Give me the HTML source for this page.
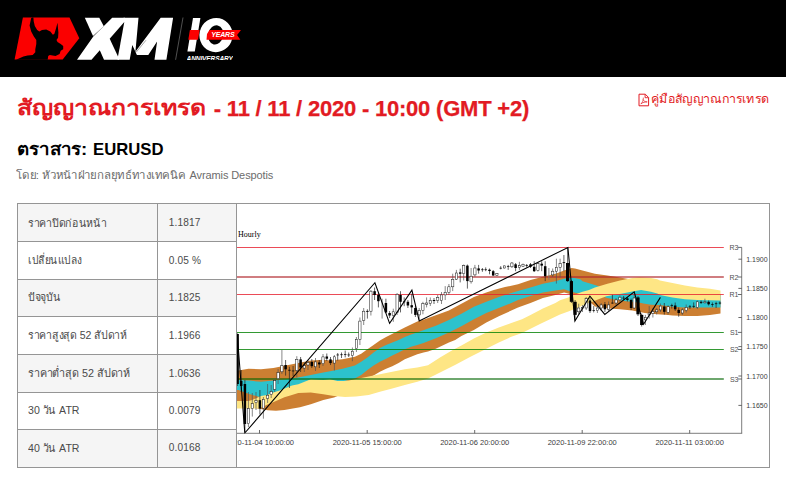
<!DOCTYPE html>
<html><head><meta charset="utf-8"><title>XM</title>
<style>
*{box-sizing:border-box;margin:0;padding:0}
html,body{width:786px;height:483px;overflow:hidden;background:#fff}
body{font-family:"Liberation Sans",sans-serif;position:relative;color:#333}
#hdr{position:absolute;left:0;top:0;width:786px;height:77px;background:#000;overflow:hidden}
#hdr svg{position:absolute;left:0;top:0}
.yrs{position:absolute;left:211.3px;top:30.4px;font-size:7px;line-height:9px;font-weight:bold;font-style:italic;color:#fff;letter-spacing:-0.2px;white-space:nowrap}
.ann{position:absolute;left:186.6px;top:55.2px;height:4.6px;overflow:hidden;font-size:6.6px;line-height:7px;font-weight:bold;font-style:italic;color:#fff;letter-spacing:-0.15px;white-space:nowrap}
.th{display:inline-block;transform-origin:0 50%}
#title{position:absolute;left:17.5px;top:94.3px;font-size:22px;font-weight:bold;color:#e21b23;white-space:nowrap;line-height:30px;letter-spacing:-0.21px}
#title .th{position:relative;top:-1.3px;left:-0.9px;font-size:21.4px;letter-spacing:0;transform:scaleX(1.163);margin-right:27.4px}
#title .la{-webkit-text-stroke:0.25px #e21b23}
#guide{position:absolute;left:651px;top:89px;font-size:12px;color:#e21b23;white-space:nowrap;line-height:20px}
#guide .th{transform:scaleX(1.038)}
#pdf{position:absolute;left:637.5px;top:93px}
#inst{position:absolute;left:17.2px;top:138px;font-size:16.7px;font-weight:bold;color:#000;white-space:nowrap;line-height:24px}
#inst .th{transform:scaleX(1.123);margin-right:8.7px}
#by{position:absolute;left:16.3px;top:165.8px;font-size:11px;color:#6c6c6c;white-space:nowrap;line-height:18px}
#by .th{transform:scaleX(1.044);margin-right:8px}
#by .la{letter-spacing:-0.1px}
#frame{position:absolute;left:17px;top:203px;width:753px;height:265px;border:1px solid #959595}
.r{position:absolute;left:17px;width:220px;border-top:1px solid #959595;font-size:11px;color:#4a4a4a;line-height:14px;white-space:nowrap}
.r.odd{background:#f5f5f5}
.r .a{position:absolute;left:0;top:0;bottom:0;width:141px;border-left:1px solid #959595;border-right:1px solid #959595}
.r .b{position:absolute;left:141px;top:0;bottom:0;width:79px;border-right:1px solid #959595;background:inherit}
.r span{position:absolute;left:10.4px;display:inline-block;transform-origin:0 50%}
.r .b span{left:10.7px;font-size:10.1px;letter-spacing:0.16px}
.yl,.sl,.xl{position:absolute;font-size:7px;line-height:10px;color:#3c3c3c;white-space:nowrap}
.yl{left:746.2px;margin-top:0.9px}
.sl{left:722.5px;width:16px;text-align:right;color:#505050;font-size:7px;margin-top:0.9px}
.xl{top:437.6px;width:120px;text-align:center;font-size:7.5px}
#hourly{position:absolute;left:238px;top:229px;font-family:"Liberation Serif",serif;font-size:8px;line-height:12px;color:#000}
#clip{position:absolute;left:237px;top:204px;width:532px;height:263px;overflow:hidden}
#clip > div{position:absolute;left:-237px;top:-204px;width:786px;height:483px}
</style></head><body>
<div id="hdr">
<svg width="786" height="77" viewBox="0 0 786 77">
<polygon fill="#fb0000" points="22.9,17.6 69.5,17.6 79.3,38.3 62.7,59.6 14.6,59.6"/>
<path fill="#000" d="M32.2,17.6 L31.2,18.1 L29.6,25.4 L31.2,31.6 L33.7,36.3 L36.3,39.9 L36.3,44 L35.3,49.2 L35.3,52.3 L32.7,54.9 L27.5,55.4 L23.4,56.4 L16.1,59.7 L47.7,59.7 L48.2,55.9 L49.8,54.9 L55.5,55.9 L59.6,53.9 L60.7,50.7 L63.2,49.2 L63.2,46.1 L60.7,44 L57.5,42 L56.5,39.9 L58.1,37.8 L58.4,32.6 L57.5,22.8 L56,28.5 L54.4,33.7 L52.9,34.7 L50.3,31.6 L46.2,29.5 L42,30 L39.3,31.4 L37.2,30 L34.8,26 L33.7,21.2 L33.4,17.6 Z"/>
<g fill="#fff">
<polygon points="84.8,17.7 99.3,17.7 103.8,26.2 93,35.9"/>
<polygon points="77,59.7 91.5,59.7 99.8,50.2 104,59.7 119,59.7 119,50 124.6,22.3 125,17.7 112.2,17.7 93.3,36.5"/>
<polygon points="123.5,17.7 138.5,17.7 135.4,51.8 132.3,45.1 129.7,59.7 117.5,59.7"/>
<polygon points="160.7,17.7 173.1,17.7 166.4,59.7 154.5,59.7 157.1,41.4 148.3,54.9 136.9,54.9 135.4,51.8"/>
</g>
<polygon fill="#000" points="124.3,22 109.7,38.8 118,56.4"/>
<path d="M136.2,52.2 L146,40.2" stroke="#000" stroke-width="0.35"/>
<path d="M183,17.5 L175.6,59.8" stroke="#5a5a5a" stroke-width="0.9"/>
<polygon fill="#fff" points="193,18 200.4,18 194.8,51.6 187.4,51.6"/>
<ellipse cx="216" cy="35.1" rx="16.6" ry="17.1" fill="#fff" transform="rotate(12 216 35.1)"/>
<ellipse cx="215.7" cy="34.9" rx="7.5" ry="9.7" fill="#000" transform="rotate(12 215.7 34.9)"/>
<polygon fill="#fb0000" points="189.9,29.9 199.6,29.9 198,39.8 188.3,39.8"/>
<polygon fill="#fb0000" points="209.5,29.9 241,29.9 237.1,34.9 240.3,39.8 206.5,39.8 207,34"/>
</svg>
<div class="yrs">YEARS</div>
<div class="ann">ANNIVERSARY</div>
</div>
<div id="title"><span class="th">สัญญาณการเทรด</span> <span class="la">- 11 / 11 / 2020 - 10:00 (GMT +2)</span></div>
<svg id="pdf" width="12" height="14" viewBox="0 0 12 14" fill="none" stroke="#e21b23" stroke-width="1">
<path d="M1,1.2 H7.3 L10.6,4.5 V12.8 H1 Z"/><path d="M7.1,1.4 V4.7 H10.4" stroke-width="0.9"/>
<path d="M2.6,11.2 C4.6,9.6 5.6,7 5.3,4.6 M4.9,6.4 C5.8,8.2 7.4,9 9.2,8.9 M3,10.6 C5,9.4 7,8.9 9.2,8.9" stroke-width="0.7"/>
</svg>
<div id="guide"><span class="th">คู่มือสัญญาณการเทรด</span></div>
<div id="inst"><span class="th">ตราสาร:</span> EURUSD</div>
<div id="by"><span class="th">โดย: หัวหน้าฝ่ายกลยุทธ์ทางเทคนิค</span> <span class="la">Avramis Despotis</span></div>
<div class="r odd" style="top:203px;height:39px"><div class="a"><span style="top:11.65px;transform:scaleX(0.958)">ราคาปิดก่อนหน้า</span></div><div class="b"><span style="top:12.16px">1.1817</span></div></div>
<div class="r" style="top:241px;height:39px"><div class="a"><span style="top:11.35px;transform:scaleX(0.926)">เปลี่ยนแปลง</span></div><div class="b"><span style="top:12.06px">0.05 %</span></div></div>
<div class="r odd" style="top:279px;height:38px"><div class="a"><span style="top:10.45px;transform:scaleX(0.953)">ปัจจุบัน</span></div><div class="b"><span style="top:11.16px">1.1825</span></div></div>
<div class="r" style="top:316px;height:39px"><div class="a"><span style="top:11.25px;transform:scaleX(0.957)">ราคาสูงสุด 52 สัปดาห์</span></div><div class="b"><span style="top:11.86px">1.1966</span></div></div>
<div class="r odd" style="top:354px;height:39px"><div class="a"><span style="top:11.25px;transform:scaleX(0.979)">ราคาต่ำสุด 52 สัปดาห์</span></div><div class="b"><span style="top:11.86px">1.0636</span></div></div>
<div class="r" style="top:392px;height:38px"><div class="a"><span style="top:10.25px;transform:scaleX(0.962)">30 วัน ATR</span></div><div class="b"><span style="top:10.86px">0.0079</span></div></div>
<div class="r odd" style="top:429px;height:39px"><div class="a"><span style="top:10.65px;transform:scaleX(0.962)">40 วัน ATR</span></div><div class="b"><span style="top:11.26px">0.0168</span></div></div>
<div id="frame"></div>
<div id="clip"><div>
<svg id="ch" width="786" height="483" viewBox="0 0 786 483" style="position:absolute;left:0;top:0" fill="none">
<polygon fill="#cc7f32" points="237.0,371.0 238.5,370.6 248.5,368.7 261.0,369.3 273.4,368.1 285.9,365.6 298.3,363.1 310.8,360.6 323.3,359.8 330.0,360.6 342.5,359.3 354.9,356.8 361.2,353.7 367.4,349.3 373.6,345.0 379.9,340.6 386.1,336.9 392.0,334.0 404.8,327.4 417.3,321.5 424.0,319.5 436.5,314.9 448.9,310.6 461.4,303.7 473.9,296.9 486.3,292.5 493.8,290.0 505.0,287.0 518.0,284.3 530.5,279.9 542.9,276.8 555.4,273.7 564.1,270.6 571.6,268.1 575.0,268.5 582.5,270.6 594.9,273.7 607.4,275.6 619.9,277.5 628.6,278.9 645.0,283.0 660.0,286.0 690.0,291.0 720.5,294.0 720.5,313.6 709.9,314.9 697.4,316.1 684.9,316.1 672.5,315.5 668.0,314.9 657.3,314.3 644.8,313.0 632.3,310.5 619.9,309.3 609.7,308.6 601.4,307.6 594.9,306.5 591.0,303.0 584.0,300.0 576.0,297.0 570.0,294.0 564.1,292.4 555.4,294.9 542.9,298.0 530.5,303.0 518.0,307.4 511.3,310.6 498.8,316.2 486.3,322.4 473.9,329.9 461.4,336.1 455.2,339.9 448.9,342.4 435.2,349.0 428.0,351.5 423.5,352.5 417.3,354.3 411.0,356.8 404.8,359.3 398.6,363.1 392.3,366.2 386.1,368.7 379.9,371.8 373.6,375.5 367.0,378.5 360.0,381.0 350.0,388.0 340.0,395.0 334.0,397.4 323.3,399.9 310.8,404.3 300.0,407.3 292.8,408.6 284.4,409.9 276.0,410.7 267.6,410.3 259.2,408.8 255.0,408.0 248.5,404.0 237.0,402.0"/>
<polygon fill="#2cc2cc" points="237.0,380.0 238.5,380.0 248.5,380.6 261.0,381.8 273.4,380.6 285.9,379.3 298.3,377.4 310.8,375.0 323.3,372.5 330.0,371.2 342.5,368.7 354.9,365.5 361.2,361.8 367.4,357.4 373.6,352.5 379.9,348.1 386.1,345.0 392.3,342.5 398.6,340.0 404.8,336.9 409.8,335.0 417.0,332.5 424.0,329.9 436.5,325.5 448.9,319.9 461.4,313.7 473.9,306.8 486.3,301.8 498.8,296.9 511.3,293.0 518.0,291.0 530.5,287.4 542.9,283.7 555.4,281.2 564.1,278.7 571.6,277.4 580.3,279.3 582.5,281.2 594.9,285.0 598.7,286.2 610.0,287.5 630.0,284.5 641.0,283.0 660.0,286.5 690.0,291.5 720.5,295.0 720.5,307.4 709.9,307.6 697.4,307.6 684.9,307.4 672.5,306.8 660.0,304.9 657.3,304.9 651.0,304.7 644.8,303.7 638.6,302.4 632.3,301.8 626.1,301.2 619.9,300.2 613.6,299.3 607.4,298.0 603.7,296.8 595.0,295.0 582.5,292.8 576.2,293.1 570.0,291.2 564.1,289.3 555.4,290.5 542.9,292.4 530.5,296.1 518.0,299.9 511.3,303.1 498.8,308.1 486.3,313.1 473.9,319.3 461.4,326.2 448.9,332.4 436.5,338.0 428.0,341.2 423.5,343.1 417.3,345.0 411.0,346.8 404.8,349.3 398.6,352.5 392.3,355.6 386.1,358.7 379.9,361.8 373.6,365.5 367.4,369.9 361.2,374.9 354.9,378.6 348.7,379.9 342.5,381.6 337.5,382.0 330.0,381.0 323.3,382.0 310.8,383.0 298.3,387.0 285.9,391.0 273.4,395.0 267.0,397.0 261.0,397.5 248.5,393.7 238.5,390.0 237.0,390.0"/>
<polygon fill="#fee685" points="237.0,401.0 238.5,401.0 248.5,401.0 252.0,400.0 261.0,396.1 267.0,394.9 273.4,392.4 279.6,390.5 285.9,388.0 292.0,385.5 298.3,384.3 304.6,381.8 310.8,379.3 323.3,380.0 330.0,379.3 337.5,381.1 343.7,381.1 348.7,380.5 354.9,379.3 361.2,378.0 367.4,376.8 373.6,375.5 379.9,374.3 392.3,371.8 404.8,369.3 417.3,367.4 428.0,365.2 440.0,357.5 452.7,350.0 461.4,345.5 473.9,338.6 486.3,332.4 498.8,327.4 511.3,323.0 522.0,319.3 530.5,315.0 542.9,308.6 555.4,303.0 560.0,300.3 568.3,297.4 576.6,294.1 582.5,291.8 589.0,290.0 594.9,287.4 607.4,283.7 619.9,280.6 628.6,278.7 632.3,278.1 639.8,277.2 651.0,278.1 657.3,279.3 660.0,280.6 672.5,283.1 684.9,285.6 697.4,287.4 709.9,288.7 720.5,290.6 720.5,300.5 709.9,300.2 697.4,299.9 684.9,299.3 672.5,297.4 660.0,294.9 657.3,293.4 651.0,291.8 641.1,289.9 632.3,291.4 626.1,292.7 619.9,293.9 613.6,294.9 606.4,296.2 599.8,298.7 593.1,301.6 584.9,304.5 576.6,308.2 568.3,311.5 560.0,314.4 540.0,324.0 522.0,333.0 511.3,336.8 498.8,342.4 483.9,350.0 470.0,357.0 455.0,365.0 440.0,372.5 428.0,378.6 417.3,381.8 404.8,384.9 392.3,388.6 379.9,391.7 368.7,395.0 356.0,396.5 345.0,397.0 334.0,396.0 323.3,394.3 310.8,392.4 298.3,393.0 291.1,395.2 284.4,397.3 276.0,401.0 267.6,404.6 259.2,408.4 256.0,408.6 248.5,408.6 237.0,408.6"/>
<rect x="236.8" y="247" width="487" height="1" fill="rgba(230,30,45,0.8)"/>
<rect x="236.8" y="294" width="487" height="1" fill="rgba(230,30,45,0.8)"/>
<rect x="236.8" y="276" width="487" height="2" fill="rgba(177,38,43,0.6)"/>
<rect x="236.8" y="332" width="487" height="1" fill="rgba(0,128,0,0.8)"/>
<rect x="236.8" y="349" width="487" height="1" fill="rgba(0,128,0,0.8)"/>
<rect x="236.8" y="378" width="487" height="2" fill="rgba(0,100,0,0.57)"/>
<path d="M237.6,334.0V386.0" stroke="#222" stroke-width="0.7"/>
<rect x="236.35" y="334.0" width="2.5" height="50.0" fill="#000"/>
<path d="M241.2,370.0V392.0" stroke="#222" stroke-width="0.7"/>
<rect x="239.95" y="381.0" width="2.5" height="5.0" fill="#000"/>
<path d="M244.9,380.0V433.0" stroke="#222" stroke-width="0.7"/>
<rect x="243.65" y="384.0" width="2.5" height="40.0" fill="#000"/>
<path d="M248.4,392.0V427.0" stroke="#555" stroke-width="0.7"/>
<rect x="247.25" y="408.6" width="2.3" height="15.1" fill="#fff" stroke="#151515" stroke-width="0.5"/>
<path d="M252.3,393.0V416.6" stroke="#555" stroke-width="0.7"/>
<rect x="251.15" y="403.6" width="2.3" height="5.0" fill="#fff" stroke="#151515" stroke-width="0.5"/>
<path d="M256.0,392.0V410.0" stroke="#555" stroke-width="0.7"/>
<rect x="254.85" y="400.6" width="2.3" height="2.1" fill="#fff" stroke="#151515" stroke-width="0.5"/>
<path d="M259.9,390.0V414.5" stroke="#222" stroke-width="0.7"/>
<rect x="258.65" y="400.2" width="2.5" height="8.4" fill="#000"/>
<path d="M263.4,397.0V418.7" stroke="#555" stroke-width="0.7"/>
<rect x="262.25" y="399.4" width="2.3" height="8.8" fill="#fff" stroke="#151515" stroke-width="0.5"/>
<path d="M267.6,384.0V403.0" stroke="#555" stroke-width="0.7"/>
<rect x="266.45" y="395.2" width="2.3" height="3.3" fill="#fff" stroke="#151515" stroke-width="0.5"/>
<path d="M271.2,385.0V398.0" stroke="#555" stroke-width="0.7"/>
<rect x="270.05" y="391.5" width="2.3" height="3.0" fill="#fff" stroke="#151515" stroke-width="0.5"/>
<path d="M274.7,378.0V392.0" stroke="#555" stroke-width="0.7"/>
<rect x="273.55" y="380.6" width="2.3" height="8.7" fill="#fff" stroke="#151515" stroke-width="0.5"/>
<path d="M278.1,369.0V384.0" stroke="#555" stroke-width="0.7"/>
<rect x="276.95" y="372.5" width="2.3" height="6.2" fill="#fff" stroke="#151515" stroke-width="0.5"/>
<path d="M281.9,350.0V374.0" stroke="#555" stroke-width="0.7"/>
<rect x="280.75" y="365.6" width="2.3" height="6.2" fill="#fff" stroke="#151515" stroke-width="0.5"/>
<path d="M285.6,360.0V375.6" stroke="#222" stroke-width="0.7"/>
<rect x="284.35" y="365.0" width="2.5" height="4.3" fill="#000"/>
<path d="M289.4,366.8V388.0" stroke="#222" stroke-width="0.7"/>
<rect x="288.15" y="369.8" width="2.5" height="0.8" fill="#000"/>
<path d="M293.1,366.0V376.0" stroke="#222" stroke-width="0.7"/>
<rect x="291.85" y="370.6" width="2.5" height="0.7" fill="#000"/>
<path d="M296.8,356.2V377.4" stroke="#555" stroke-width="0.7"/>
<rect x="295.65" y="359.4" width="2.3" height="11.2" fill="#fff" stroke="#151515" stroke-width="0.5"/>
<path d="M300.6,357.0V372.0" stroke="#222" stroke-width="0.7"/>
<rect x="299.35" y="359.4" width="2.5" height="8.1" fill="#000"/>
<path d="M304.3,362.0V372.0" stroke="#555" stroke-width="0.7"/>
<rect x="303.15" y="365.6" width="2.3" height="2.5" fill="#fff" stroke="#151515" stroke-width="0.5"/>
<path d="M308.0,360.0V370.0" stroke="#555" stroke-width="0.7"/>
<rect x="306.85" y="362.5" width="2.3" height="2.5" fill="#fff" stroke="#151515" stroke-width="0.5"/>
<path d="M311.8,359.0V368.0" stroke="#222" stroke-width="0.7"/>
<rect x="310.55" y="361.9" width="2.5" height="4.3" fill="#000"/>
<path d="M315.5,358.0V371.0" stroke="#555" stroke-width="0.7"/>
<rect x="314.35" y="361.9" width="2.3" height="4.9" fill="#fff" stroke="#151515" stroke-width="0.5"/>
<path d="M319.3,360.0V368.0" stroke="#222" stroke-width="0.7"/>
<rect x="318.05" y="362.5" width="2.5" height="1.9" fill="#000"/>
<path d="M323.0,354.0V366.0" stroke="#555" stroke-width="0.7"/>
<rect x="321.85" y="356.9" width="2.3" height="6.8" fill="#fff" stroke="#151515" stroke-width="0.5"/>
<path d="M326.8,353.5V361.0" stroke="#222" stroke-width="0.7"/>
<rect x="325.55" y="356.5" width="2.5" height="2.2" fill="#000"/>
<path d="M330.5,357.0V365.0" stroke="#222" stroke-width="0.7"/>
<rect x="329.25" y="359.4" width="2.5" height="3.7" fill="#000"/>
<path d="M334.4,355.0V370.5" stroke="#555" stroke-width="0.7"/>
<rect x="333.25" y="356.8" width="2.3" height="6.3" fill="#fff" stroke="#151515" stroke-width="0.5"/>
<path d="M337.7,353.0V360.5" stroke="#222" stroke-width="0.7"/>
<rect x="336.45" y="354.6" width="2.5" height="0.7" fill="#000"/>
<path d="M341.5,352.5V358.0" stroke="#222" stroke-width="0.7"/>
<rect x="340.25" y="354.4" width="2.5" height="0.7" fill="#000"/>
<path d="M345.2,350.6V357.4" stroke="#222" stroke-width="0.7"/>
<rect x="343.95" y="354.0" width="2.5" height="0.7" fill="#000"/>
<path d="M348.7,352.5V357.0" stroke="#222" stroke-width="0.7"/>
<rect x="347.45" y="354.6" width="2.5" height="0.7" fill="#000"/>
<path d="M352.4,347.5V361.2" stroke="#555" stroke-width="0.7"/>
<rect x="351.25" y="351.2" width="2.3" height="4.4" fill="#fff" stroke="#151515" stroke-width="0.5"/>
<path d="M356.4,337.0V352.0" stroke="#555" stroke-width="0.7"/>
<rect x="355.25" y="339.4" width="2.3" height="9.3" fill="#fff" stroke="#151515" stroke-width="0.5"/>
<path d="M359.9,317.5V345.0" stroke="#555" stroke-width="0.7"/>
<rect x="358.75" y="321.1" width="2.3" height="18.3" fill="#fff" stroke="#151515" stroke-width="0.5"/>
<path d="M363.7,308.0V325.0" stroke="#555" stroke-width="0.7"/>
<rect x="362.55" y="311.2" width="2.3" height="9.3" fill="#fff" stroke="#151515" stroke-width="0.5"/>
<path d="M367.4,309.3V318.6" stroke="#222" stroke-width="0.7"/>
<rect x="366.15" y="310.9" width="2.5" height="0.9" fill="#000"/>
<path d="M370.9,290.0V315.5" stroke="#555" stroke-width="0.7"/>
<rect x="369.75" y="291.2" width="2.3" height="20.0" fill="#fff" stroke="#151515" stroke-width="0.5"/>
<path d="M374.6,287.5V300.0" stroke="#222" stroke-width="0.7"/>
<rect x="373.35" y="291.2" width="2.5" height="3.8" fill="#000"/>
<path d="M378.4,292.5V307.4" stroke="#222" stroke-width="0.7"/>
<rect x="377.15" y="295.0" width="2.5" height="6.2" fill="#000"/>
<path d="M382.1,298.7V318.6" stroke="#777" stroke-width="0.9"/>
<path d="M385.9,298.7V313.0" stroke="#222" stroke-width="0.7"/>
<rect x="384.65" y="303.0" width="2.5" height="9.4" fill="#000"/>
<path d="M389.6,311.0V318.0" stroke="#222" stroke-width="0.7"/>
<rect x="388.35" y="313.0" width="2.5" height="2.5" fill="#000"/>
<path d="M393.3,308.7V321.8" stroke="#555" stroke-width="0.7"/>
<rect x="392.15" y="311.8" width="2.3" height="3.7" fill="#fff" stroke="#151515" stroke-width="0.5"/>
<path d="M397.1,293.0V315.0" stroke="#555" stroke-width="0.7"/>
<rect x="395.95" y="294.3" width="2.3" height="18.1" fill="#fff" stroke="#151515" stroke-width="0.5"/>
<path d="M400.5,291.2V312.4" stroke="#222" stroke-width="0.7"/>
<rect x="399.25" y="295.0" width="2.5" height="6.8" fill="#000"/>
<path d="M404.2,297.4V306.2" stroke="#222" stroke-width="0.7"/>
<rect x="402.95" y="301.5" width="2.5" height="0.7" fill="#000"/>
<path d="M407.9,300.0V308.0" stroke="#222" stroke-width="0.7"/>
<rect x="406.65" y="301.8" width="2.5" height="3.7" fill="#000"/>
<path d="M411.7,293.7V313.7" stroke="#222" stroke-width="0.7"/>
<rect x="410.45" y="305.2" width="2.5" height="2.2" fill="#000"/>
<path d="M415.4,306.0V317.0" stroke="#222" stroke-width="0.7"/>
<rect x="414.15" y="308.0" width="2.5" height="6.9" fill="#000"/>
<path d="M419.2,308.0V319.9" stroke="#555" stroke-width="0.7"/>
<rect x="418.05" y="310.5" width="2.3" height="4.4" fill="#fff" stroke="#151515" stroke-width="0.5"/>
<path d="M422.9,301.8V314.3" stroke="#555" stroke-width="0.7"/>
<rect x="421.75" y="303.7" width="2.3" height="6.8" fill="#fff" stroke="#151515" stroke-width="0.5"/>
<path d="M426.6,297.4V307.4" stroke="#555" stroke-width="0.7"/>
<rect x="425.45" y="303.0" width="2.3" height="1.3" fill="#fff" stroke="#151515" stroke-width="0.5"/>
<path d="M430.3,297.5V306.0" stroke="#555" stroke-width="0.7"/>
<rect x="429.15" y="300.5" width="2.3" height="3.0" fill="#fff" stroke="#151515" stroke-width="0.5"/>
<path d="M434.0,298.0V304.0" stroke="#222" stroke-width="0.7"/>
<rect x="432.75" y="300.0" width="2.5" height="1.0" fill="#000"/>
<path d="M437.7,295.0V303.0" stroke="#555" stroke-width="0.7"/>
<rect x="436.55" y="297.5" width="2.3" height="3.0" fill="#fff" stroke="#151515" stroke-width="0.5"/>
<path d="M441.5,292.0V304.0" stroke="#555" stroke-width="0.7"/>
<rect x="440.35" y="294.9" width="2.3" height="5.6" fill="#fff" stroke="#151515" stroke-width="0.5"/>
<path d="M445.2,286.1V300.0" stroke="#555" stroke-width="0.7"/>
<rect x="444.05" y="292.4" width="2.3" height="2.5" fill="#fff" stroke="#151515" stroke-width="0.5"/>
<path d="M448.9,284.0V295.0" stroke="#555" stroke-width="0.7"/>
<rect x="447.75" y="286.8" width="2.3" height="5.6" fill="#fff" stroke="#151515" stroke-width="0.5"/>
<path d="M452.7,273.7V291.1" stroke="#555" stroke-width="0.7"/>
<rect x="451.55" y="279.3" width="2.3" height="7.5" fill="#fff" stroke="#151515" stroke-width="0.5"/>
<path d="M456.4,269.9V279.9" stroke="#555" stroke-width="0.7"/>
<rect x="455.25" y="273.0" width="2.3" height="6.3" fill="#fff" stroke="#151515" stroke-width="0.5"/>
<path d="M460.2,268.7V282.4" stroke="#222" stroke-width="0.7"/>
<rect x="458.95" y="272.4" width="2.5" height="1.3" fill="#000"/>
<path d="M463.7,264.5V280.5" stroke="#555" stroke-width="0.7"/>
<rect x="462.55" y="265.6" width="2.3" height="8.1" fill="#fff" stroke="#151515" stroke-width="0.5"/>
<path d="M467.4,264.5V288.6" stroke="#222" stroke-width="0.7"/>
<rect x="466.15" y="265.6" width="2.5" height="15.5" fill="#000"/>
<path d="M471.1,268.0V283.6" stroke="#555" stroke-width="0.7"/>
<rect x="469.95" y="276.2" width="2.3" height="5.6" fill="#fff" stroke="#151515" stroke-width="0.5"/>
<path d="M474.9,264.9V276.8" stroke="#555" stroke-width="0.7"/>
<rect x="473.75" y="268.0" width="2.3" height="6.9" fill="#fff" stroke="#151515" stroke-width="0.5"/>
<path d="M478.6,264.9V273.7" stroke="#222" stroke-width="0.7"/>
<rect x="477.35" y="268.4" width="2.5" height="2.1" fill="#000"/>
<path d="M482.4,268.0V271.8" stroke="#222" stroke-width="0.7"/>
<rect x="481.15" y="269.4" width="2.5" height="0.7" fill="#000"/>
<path d="M485.7,267.4V271.2" stroke="#222" stroke-width="0.7"/>
<rect x="484.45" y="269.4" width="2.5" height="0.7" fill="#000"/>
<path d="M489.5,268.5V274.3" stroke="#222" stroke-width="0.7"/>
<rect x="488.25" y="269.7" width="2.5" height="1.3" fill="#000"/>
<path d="M493.2,270.0V276.0" stroke="#222" stroke-width="0.7"/>
<rect x="491.95" y="271.2" width="2.5" height="4.3" fill="#000"/>
<path d="M496.9,273.0V276.0" stroke="#555" stroke-width="0.7"/>
<rect x="495.75" y="273.7" width="2.3" height="1.8" fill="#fff" stroke="#151515" stroke-width="0.5"/>
<path d="M500.7,266.2V269.3" stroke="#222" stroke-width="0.7"/>
<rect x="499.45" y="267.8" width="2.5" height="0.7" fill="#000"/>
<path d="M504.4,265.5V268.5" stroke="#555" stroke-width="0.7"/>
<rect x="503.25" y="265.9" width="2.3" height="2.1" fill="#fff" stroke="#151515" stroke-width="0.5"/>
<path d="M508.2,264.9V269.9" stroke="#222" stroke-width="0.7"/>
<rect x="506.95" y="266.2" width="2.5" height="0.7" fill="#000"/>
<path d="M511.9,262.0V268.0" stroke="#555" stroke-width="0.7"/>
<rect x="510.75" y="263.0" width="2.3" height="3.8" fill="#fff" stroke="#151515" stroke-width="0.5"/>
<path d="M515.6,263.0V271.2" stroke="#222" stroke-width="0.7"/>
<rect x="514.35" y="264.3" width="2.5" height="3.7" fill="#000"/>
<path d="M519.4,261.8V269.9" stroke="#555" stroke-width="0.7"/>
<rect x="518.25" y="265.6" width="2.3" height="1.8" fill="#fff" stroke="#151515" stroke-width="0.5"/>
<path d="M523.0,263.5V267.0" stroke="#555" stroke-width="0.7"/>
<rect x="521.85" y="264.3" width="2.3" height="1.9" fill="#fff" stroke="#151515" stroke-width="0.5"/>
<path d="M526.7,264.0V267.5" stroke="#222" stroke-width="0.7"/>
<rect x="525.45" y="265.3" width="2.5" height="0.7" fill="#000"/>
<path d="M530.5,263.0V268.0" stroke="#222" stroke-width="0.7"/>
<rect x="529.25" y="264.3" width="2.5" height="2.5" fill="#000"/>
<path d="M534.2,261.2V272.0" stroke="#222" stroke-width="0.7"/>
<rect x="532.95" y="266.8" width="2.5" height="4.4" fill="#000"/>
<path d="M537.9,262.0V271.5" stroke="#555" stroke-width="0.7"/>
<rect x="536.75" y="263.7" width="2.3" height="6.8" fill="#fff" stroke="#151515" stroke-width="0.5"/>
<path d="M541.7,261.2V271.2" stroke="#222" stroke-width="0.7"/>
<rect x="540.45" y="263.7" width="2.5" height="1.9" fill="#000"/>
<path d="M545.2,261.2V281.1" stroke="#222" stroke-width="0.7"/>
<rect x="543.95" y="266.2" width="2.5" height="10.0" fill="#000"/>
<path d="M548.9,268.0V279.9" stroke="#777" stroke-width="0.9"/>
<path d="M552.7,268.5V277.0" stroke="#555" stroke-width="0.7"/>
<rect x="551.55" y="271.2" width="2.3" height="3.7" fill="#fff" stroke="#151515" stroke-width="0.5"/>
<path d="M556.4,258.7V283.6" stroke="#555" stroke-width="0.7"/>
<rect x="555.25" y="267.4" width="2.3" height="3.8" fill="#fff" stroke="#151515" stroke-width="0.5"/>
<path d="M560.1,258.7V277.4" stroke="#555" stroke-width="0.7"/>
<rect x="558.95" y="263.7" width="2.3" height="3.7" fill="#fff" stroke="#151515" stroke-width="0.5"/>
<path d="M563.9,255.0V271.2" stroke="#222" stroke-width="0.7"/>
<rect x="562.65" y="262.2" width="2.5" height="0.9" fill="#000"/>
<path d="M567.6,247.5V282.0" stroke="#222" stroke-width="0.7"/>
<rect x="566.00" y="263.0" width="3.2" height="18.1" fill="#000"/>
<path d="M571.4,280.0V303.0" stroke="#222" stroke-width="0.7"/>
<rect x="569.80" y="281.1" width="3.2" height="20.7" fill="#000"/>
<path d="M575.1,300.0V320.5" stroke="#222" stroke-width="0.7"/>
<rect x="573.50" y="301.8" width="3.2" height="13.1" fill="#000"/>
<path d="M578.7,303.7V314.9" stroke="#555" stroke-width="0.7"/>
<rect x="577.55" y="308.0" width="2.3" height="3.8" fill="#fff" stroke="#151515" stroke-width="0.5"/>
<path d="M582.5,305.0V312.0" stroke="#555" stroke-width="0.7"/>
<rect x="581.35" y="307.4" width="2.3" height="1.2" fill="#fff" stroke="#151515" stroke-width="0.5"/>
<path d="M586.2,297.0V310.0" stroke="#555" stroke-width="0.7"/>
<rect x="585.05" y="298.7" width="2.3" height="9.3" fill="#fff" stroke="#151515" stroke-width="0.5"/>
<path d="M590.0,298.0V313.0" stroke="#222" stroke-width="0.7"/>
<rect x="588.75" y="300.5" width="2.5" height="10.6" fill="#000"/>
<path d="M593.7,306.1V312.4" stroke="#222" stroke-width="0.7"/>
<rect x="592.45" y="310.2" width="2.5" height="0.7" fill="#000"/>
<path d="M597.4,305.0V313.0" stroke="#555" stroke-width="0.7"/>
<rect x="596.25" y="308.0" width="2.3" height="2.5" fill="#fff" stroke="#151515" stroke-width="0.5"/>
<path d="M601.2,303.0V311.0" stroke="#555" stroke-width="0.7"/>
<rect x="600.05" y="304.9" width="2.3" height="3.1" fill="#fff" stroke="#151515" stroke-width="0.5"/>
<path d="M604.9,302.0V312.0" stroke="#222" stroke-width="0.7"/>
<rect x="603.65" y="304.3" width="2.5" height="5.0" fill="#000"/>
<path d="M608.6,301.5V311.0" stroke="#555" stroke-width="0.7"/>
<rect x="607.45" y="304.9" width="2.3" height="4.4" fill="#fff" stroke="#151515" stroke-width="0.5"/>
<path d="M612.4,294.9V303.7" stroke="#222" stroke-width="0.7"/>
<rect x="611.15" y="302.7" width="2.5" height="0.7" fill="#000"/>
<path d="M616.1,298.0V305.0" stroke="#555" stroke-width="0.7"/>
<rect x="614.95" y="299.9" width="2.3" height="3.1" fill="#fff" stroke="#151515" stroke-width="0.5"/>
<path d="M619.9,295.5V301.5" stroke="#555" stroke-width="0.7"/>
<rect x="618.75" y="297.2" width="2.3" height="2.7" fill="#fff" stroke="#151515" stroke-width="0.5"/>
<path d="M623.6,296.0V300.0" stroke="#222" stroke-width="0.7"/>
<rect x="622.35" y="297.7" width="2.5" height="0.7" fill="#000"/>
<path d="M627.4,297.0V301.5" stroke="#222" stroke-width="0.7"/>
<rect x="626.15" y="298.4" width="2.5" height="1.5" fill="#000"/>
<path d="M631.1,298.5V310.0" stroke="#222" stroke-width="0.7"/>
<rect x="629.85" y="299.9" width="2.5" height="8.1" fill="#000"/>
<path d="M634.2,294.0V309.0" stroke="#555" stroke-width="0.7"/>
<rect x="633.05" y="298.0" width="2.3" height="10.0" fill="#fff" stroke="#151515" stroke-width="0.5"/>
<path d="M638.0,296.0V316.0" stroke="#222" stroke-width="0.7"/>
<rect x="636.40" y="297.4" width="3.2" height="16.9" fill="#000"/>
<path d="M641.7,313.5V326.5" stroke="#222" stroke-width="0.7"/>
<rect x="640.10" y="314.9" width="3.2" height="10.1" fill="#000"/>
<path d="M645.4,314.9V325.0" stroke="#555" stroke-width="0.7"/>
<rect x="644.25" y="317.4" width="2.3" height="2.5" fill="#fff" stroke="#151515" stroke-width="0.5"/>
<path d="M649.2,306.1V318.6" stroke="#555" stroke-width="0.7"/>
<rect x="648.05" y="313.0" width="2.3" height="1.9" fill="#fff" stroke="#151515" stroke-width="0.5"/>
<path d="M652.9,308.0V317.5" stroke="#555" stroke-width="0.7"/>
<rect x="651.75" y="311.5" width="2.3" height="2.0" fill="#fff" stroke="#151515" stroke-width="0.5"/>
<path d="M656.7,308.0V314.5" stroke="#555" stroke-width="0.7"/>
<rect x="655.55" y="309.9" width="2.3" height="1.9" fill="#fff" stroke="#151515" stroke-width="0.5"/>
<path d="M660.5,303.5V312.0" stroke="#555" stroke-width="0.7"/>
<rect x="659.35" y="306.1" width="2.3" height="3.8" fill="#fff" stroke="#151515" stroke-width="0.5"/>
<path d="M664.3,303.0V314.5" stroke="#222" stroke-width="0.7"/>
<rect x="663.05" y="306.5" width="2.5" height="5.3" fill="#000"/>
<path d="M668.1,305.0V314.5" stroke="#555" stroke-width="0.7"/>
<rect x="666.95" y="306.8" width="2.3" height="5.6" fill="#fff" stroke="#151515" stroke-width="0.5"/>
<path d="M671.8,303.7V308.6" stroke="#222" stroke-width="0.7"/>
<rect x="670.55" y="305.2" width="2.5" height="0.7" fill="#000"/>
<path d="M675.2,302.5V311.0" stroke="#222" stroke-width="0.7"/>
<rect x="673.95" y="305.5" width="2.5" height="3.8" fill="#000"/>
<path d="M678.7,307.5V316.7" stroke="#222" stroke-width="0.7"/>
<rect x="677.45" y="309.9" width="2.5" height="3.1" fill="#000"/>
<path d="M682.4,308.0V315.0" stroke="#555" stroke-width="0.7"/>
<rect x="681.25" y="309.9" width="2.3" height="3.1" fill="#fff" stroke="#151515" stroke-width="0.5"/>
<path d="M686.2,304.5V312.5" stroke="#555" stroke-width="0.7"/>
<rect x="685.05" y="307.4" width="2.3" height="3.1" fill="#fff" stroke="#151515" stroke-width="0.5"/>
<path d="M689.9,305.0V309.0" stroke="#222" stroke-width="0.7"/>
<rect x="688.65" y="306.5" width="2.5" height="0.7" fill="#000"/>
<path d="M693.7,302.4V308.0" stroke="#222" stroke-width="0.7"/>
<rect x="692.45" y="305.9" width="2.5" height="0.7" fill="#000"/>
<path d="M697.4,300.5V309.0" stroke="#555" stroke-width="0.7"/>
<rect x="696.25" y="301.8" width="2.3" height="5.6" fill="#fff" stroke="#151515" stroke-width="0.5"/>
<path d="M701.1,300.5V304.0" stroke="#222" stroke-width="0.7"/>
<rect x="699.85" y="301.8" width="2.5" height="1.0" fill="#000"/>
<path d="M704.9,298.7V303.7" stroke="#555" stroke-width="0.7"/>
<rect x="703.75" y="301.8" width="2.3" height="1.0" fill="#fff" stroke="#151515" stroke-width="0.5"/>
<path d="M708.6,300.5V305.5" stroke="#222" stroke-width="0.7"/>
<rect x="707.35" y="301.8" width="2.5" height="2.5" fill="#000"/>
<path d="M712.4,302.4V306.8" stroke="#222" stroke-width="0.7"/>
<rect x="711.15" y="304.0" width="2.5" height="0.7" fill="#000"/>
<path d="M716.1,301.8V308.0" stroke="#222" stroke-width="0.7"/>
<rect x="714.85" y="303.4" width="2.5" height="0.7" fill="#000"/>
<path d="M719.9,301.5V304.5" stroke="#222" stroke-width="0.7"/>
<rect x="718.65" y="302.7" width="2.5" height="0.7" fill="#000"/>
<polyline points="237.2,333.5 244.8,433.0 374.9,282.7 389.6,323.4 411.9,290.2 419.2,320.9 567.9,247.5 574.9,321.0 589.9,296.2 604.8,314.4 634.2,291.8 643.6,324.2 660.4,297.4" stroke="#000" stroke-width="1.08" stroke-linejoin="miter"/>
<path d="M741.7,247.4V433.3M236.8,433.3H742.2" stroke="#666" stroke-width="0.85"/>
<path d="M259.5,430V433.3M367.2,430V433.3M474.7,430V433.3M582.2,430V433.3M689.7,430V433.3M737.9,247.4H741.7M737.9,277H741.7M737.9,294.5H741.7M737.9,332.4H741.7M737.9,349.5H741.7M737.9,379H741.7M738.4,259.2H741.7M738.4,288.4H741.7M738.4,317.5H741.7M738.4,346.6H741.7M738.4,376.0H741.7M738.4,405.4H741.7" stroke="#444" stroke-width="0.8"/>
</svg>
<div class="yl" style="top:254.2px">1.1900</div><div class="yl" style="top:283.4px">1.1850</div><div class="yl" style="top:312.5px">1.1800</div><div class="yl" style="top:341.6px">1.1750</div><div class="yl" style="top:371.0px">1.1700</div><div class="yl" style="top:400.4px">1.1650</div><div class="sl" style="top:242.4px">R3</div><div class="sl" style="top:272.0px">R2</div><div class="sl" style="top:289.5px">R1</div><div class="sl" style="top:327.4px">S1</div><div class="sl" style="top:344.5px">S2</div><div class="sl" style="top:374.0px">S3</div><div class="xl" style="left:199.5px">2020-11-04 10:00:00</div><div class="xl" style="left:307.2px">2020-11-05 15:00:00</div><div class="xl" style="left:414.7px">2020-11-06 20:00:00</div><div class="xl" style="left:522.2px">2020-11-09 22:00:00</div><div class="xl" style="left:629.7px">2020-11-11 03:00:00</div>
</div></div>
<div id="hourly">Hourly</div>
</body></html>
